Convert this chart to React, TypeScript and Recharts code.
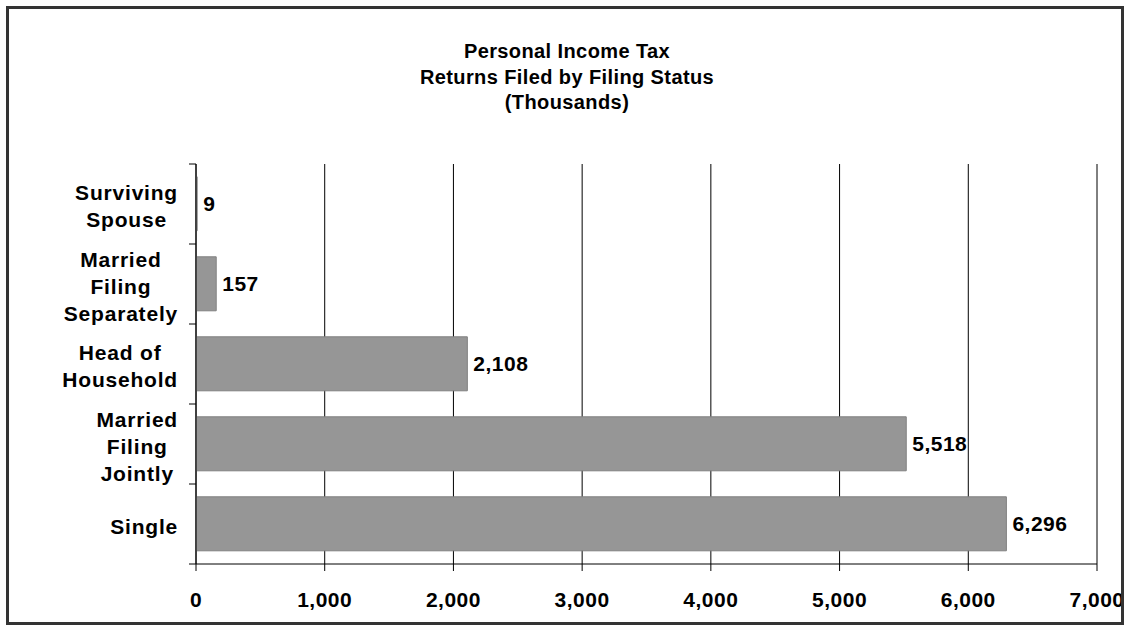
import React from "react";
import { BarChart, Bar, XAxis, YAxis, CartesianGrid, LabelList } from "recharts";

const categories = ["Surviving Spouse", "Married Filing Separately", "Head of Household", "Married Filing Jointly", "Single"];
const categoryLabelLines = [["Surviving", "Spouse"], ["Married", "Filing", "Separately"], ["Head of", "Household"], ["Married", "Filing", "Jointly"], ["Single"]];
const returnsFiled = [9, 157, 2108, 5518, 6296];
const xTicks = [0, 1000, 2000, 3000, 4000, 5000, 6000, 7000];
const titleLines = ["Personal Income Tax", "Returns Filed by Filing Status", "(Thousands)"];

const data = categories.map((name, i) => ({ name, value: returnsFiled[i], lines: categoryLabelLines[i] }));

const FONT = "'Liberation Sans', Arial, Helvetica, sans-serif";
const LABEL_SIZE = 21;
const LABEL_LS = 0.8;

let ctx: CanvasRenderingContext2D | null = null;
function measure(text: string): number {
  if (!ctx) ctx = document.createElement("canvas").getContext("2d");
  if (!ctx) return text.length * 12;
  ctx.font = `bold ${LABEL_SIZE}px ${FONT}`;
  return ctx.measureText(text).width + LABEL_LS * text.length;
}

const fmt = (v: number) => v.toLocaleString("en-US");

const YTick = (props: any) => {
  const { x, y, payload, index, visibleTicksCount } = props;
  const half = payload && typeof payload.offset === "number" && payload.offset > 0 ? payload.offset : 40;
  const idx = categories.indexOf(payload.value);
  const lines = idx >= 0 ? categoryLabelLines[idx] : [String(payload.value)];
  const maxW = Math.max(...lines.map(measure));
  const right = x - 11;
  const cx = right - maxW / 2;
  const lh = 27;
  const n = lines.length;
  return (
    <g>
      <line x1={x} x2={x + 7} y1={y - half} y2={y - half} stroke="#000" />
      {index === visibleTicksCount - 1 && <line x1={x} x2={x + 7} y1={y + half} y2={y + half} stroke="#000" />}
      <text textAnchor="middle" fontFamily={FONT} fontWeight="bold" fontSize={LABEL_SIZE} letterSpacing={LABEL_LS} fill="#000">
        {lines.map((l: string, i: number) => (
          <tspan key={i} x={cx} y={y + (i - (n - 1) / 2) * lh + 0.36 * LABEL_SIZE + 2}>{l}</tspan>
        ))}
      </text>
    </g>
  );
};

const XTick = (props: any) => {
  const { x, y, payload } = props;
  return (
    <text x={x} y={y} dy={34} textAnchor="middle" fontFamily={FONT} fontWeight="bold" fontSize={LABEL_SIZE} letterSpacing={0.5} fill="#000">
      {fmt(payload.value)}
    </text>
  );
};

export default function App() {
  return (
    <div style={{ position: "absolute", left: 0, top: 0, width: 1128, height: 627, background: "#fff", overflow: "hidden" }}>
      <div style={{ position: "absolute", left: 0, top: 39, width: 1134, textAlign: "center", fontFamily: FONT, fontWeight: "bold", fontSize: 20, lineHeight: "25.5px", letterSpacing: 0.4, color: "#000" }}>
        {titleLines.map((t, i) => (
          <div key={i}>{t}</div>
        ))}
      </div>
      <div style={{ position: "absolute", left: 0, top: 0 }}>
        <BarChart width={1128} height={627} data={data} layout="vertical" margin={{ top: 164, right: 31, bottom: 13, left: 6 }} barCategoryGap="16%">
          <CartesianGrid horizontal={false} vertical={true} stroke="#000" strokeOpacity={1} />
          <XAxis type="number" domain={[0, 7000]} ticks={xTicks} interval={0} height={50} tickSize={7} tickMargin={2} axisLine={{ stroke: "#000" }} tickLine={{ stroke: "#000" }} tick={<XTick />} />
          <YAxis type="category" dataKey="name" width={190} tickSize={7} tickMargin={0} tickLine={false} axisLine={{ stroke: "#000" }} tick={<YTick />} interval={0} />
          <Bar dataKey="value" fill="#969696" stroke="#808080" strokeWidth={1} isAnimationActive={false}>
            <LabelList dataKey="value" position="right" offset={6} formatter={(v: any) => fmt(Number(v))} style={{ fontFamily: FONT, fontWeight: "bold", fontSize: LABEL_SIZE, letterSpacing: 0.5, fill: "#000" }} />
          </Bar>
        </BarChart>
      </div>
      <div style={{ position: "absolute", left: 6, top: 6, width: 1118, height: 619, boxSizing: "border-box", border: "3px solid #333", pointerEvents: "none" }} />
    </div>
  );
}
